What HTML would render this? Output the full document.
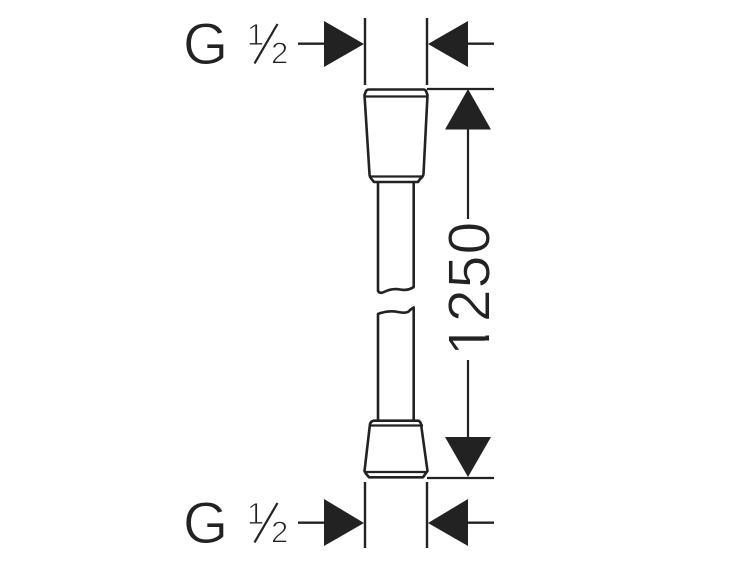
<!DOCTYPE html>
<html><head><meta charset="utf-8"><style>html,body{margin:0;padding:0;background:#fff}svg{display:block}</style></head><body>
<svg width="750" height="563" viewBox="0 0 750 563" xmlns="http://www.w3.org/2000/svg">
<g fill="none" stroke="#222" stroke-width="2.4" stroke-linejoin="round" stroke-linecap="butt">
<!-- top width dimension -->
<path d="M365 18V85M427 18V85M298 43.7H325M467 43.7H494"/>
<!-- vertical dimension -->
<path d="M427 89H494M468 128V219M468 360V438M427 478H494" stroke-width="2.2"/>
<!-- bottom width dimension -->
<path d="M365 482V548M427 482V548M298 522.7H325M467 522.7H494"/>
<!-- top fitting -->
<path d="M370 89.5H423.5Q425 89.5 426 91L427.5 95L423.5 174Q423 177 420 179L418 182H374L371.5 179Q369.5 177 369.5 174L364.5 95L366 91Q367 89.5 369 89.5Z" stroke-width="2.6"/>
<path d="M365 96.5H427.5M369.5 176.5H423" stroke-width="2.2"/>
<!-- stem -->
<path d="M378 182V291Q380 294 384 292Q392 288 400 289.5T413.7 287V182" stroke-width="2.6"/>
<path d="M378 420V314Q388 310 398 312T410 310L413.7 307.5V420" stroke-width="2.6"/>
<!-- bottom fitting -->
<path d="M374 420.7H418Q420 421 421 424L427.5 471L426 473L423 477.3H369L365.5 473L364.5 471L370 424Q371 421 374 420.7Z" stroke-width="2.6"/>
<path d="M370 425.5H423M365 472H427.5" stroke-width="2.2"/>
<!-- fraction slash -->
<path d="M254.5 63.5L277.5 24M254.5 542.5L277.5 503" stroke-width="2.2"/>
</g>
<g fill="#222">
<path d="M324 21V67L364 44Z"/><path d="M468 21V67L428 44Z"/>
<path d="M468 89L445 129.5H491Z"/><path d="M468 477L445 437H491Z"/>
<path d="M324 499V546L364 523Z"/><path d="M468 499V546L428 523Z"/>
</g>
<g font-family="'Liberation Sans',sans-serif" fill="#222" stroke="#fff" stroke-width="0.9">
<text x="183" y="64" font-size="58">G</text>
<text x="183" y="543" font-size="58">G</text>
<text x="247" y="45" font-size="31">1</text>
<text x="271" y="63.5" font-size="31">2</text>
<text x="247" y="524" font-size="31">1</text>
<text x="271" y="542.5" font-size="31">2</text>
<text transform="translate(489.5 356) rotate(-90)" font-size="59" letter-spacing="1">1250</text>
</g>
<path d="M484.6 340.5H492V354H484.6ZM484.6 323H492V335.5H484.6Z" fill="#fff"/>
</svg>
</body></html>
